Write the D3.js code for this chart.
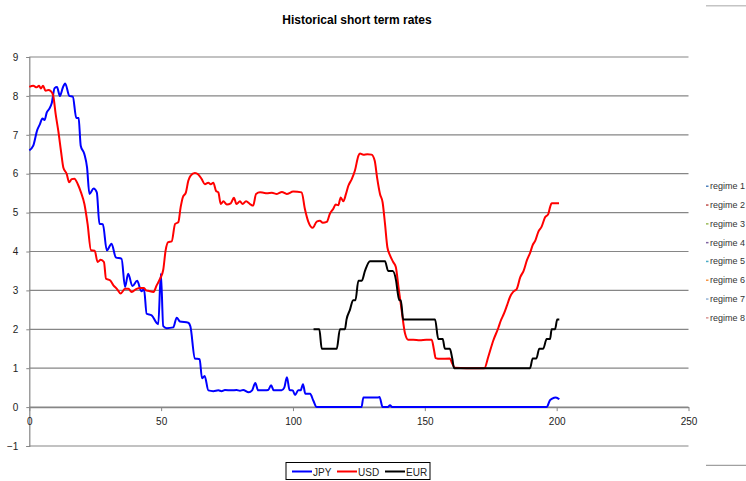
<!DOCTYPE html>
<html>
<head>
<meta charset="utf-8">
<script src="https://cdn.jsdelivr.net/npm/d3@7"></script>
<style>
  html, body { margin: 0; padding: 0; background: #fff; }
  svg { display: block; font-family: "Liberation Sans", Arial, sans-serif; }
</style>
</head>
<body>
<svg id="chart" width="746" height="481"></svg>
<script>
// Short-term interest rates by period index
const jpyX = [0,1.5,3,4,5,5.8,6.6,7.5,8.5,9.6,10.5,11.6,12.7,13.6,15.2,16.5,17.8,18.7,19.5,20.9,21.9,22.8,24.4,25.6,26.6,27.9,29.4,31.2,32.8,35,36.3,37.5,39.1,40.9,42.5,43.5,44.5,46.4,48.3,48.9,49.9,50.8,52.1,54.6,55.9,57.1,60.3,61.1,62.8,64.6,65.5,66.5,67.9,69.8,71.7,72.9,74.2,76.7,78.6,79.9,81.1,83.2,84.5,85.7,86.8,89.3,90.6,91.7,92.7,95.7,96.7,97.7,98.7,99.9,100.8,102,102.9,103.8,104.7,106.5,107.7,109,126,126.7,132.4,132.8,134,136,136.8,137.6,196.2,197.5,198.3,199.7,201];
const jpyY = [6.6,6.72,7.12,7.27,7.42,7.38,7.57,7.66,7.81,8.2,8.23,8.0,8.21,8.32,8.0,7.98,7.44,7.43,6.72,6.5,6.16,5.48,5.62,5.52,4.71,4.7,4.03,4.2,3.85,3.81,3.09,3.43,3.11,3.25,2.98,3.03,2.4,2.36,2.16,2.13,3.43,2.08,2.03,2.05,2.3,2.2,2.17,2.07,1.25,1.23,0.74,0.8,0.43,0.41,0.43,0.41,0.44,0.43,0.44,0.42,0.44,0.38,0.43,0.62,0.43,0.43,0.44,0.56,0.43,0.43,0.5,0.77,0.44,0.43,0.31,0.43,0.43,0.59,0.34,0.34,0.17,0,0,0.25,0.25,0.26,0,0,0.05,0,0,0.18,0.22,0.25,0.2];

const usdX = [0,1.5,2.8,3.7,4.4,5.2,6.2,7.2,8.2,9.1,10,11,12,12.9,14.2,15.1,16.1,17.1,18.4,19.6,20.9,22.1,23.4,24.8,25.9,27.1,28.3,29.1,30.6,31.9,33.2,34.6,36.3,37.6,38.8,40.7,42,43.5,44.3,45.1,47.1,48.3,49.6,50.8,51.7,52.7,54,55.3,56.5,57.4,58.2,59.4,60.3,61.2,62.8,64.1,65.4,66.6,67.9,68.8,69.8,70.8,71.7,72.6,73.6,74.9,76.4,77.6,78.6,79.9,80.9,82.2,83.7,84.9,86,87.5,88.8,90.1,92,93.9,95.8,97.6,100.1,103.3,104.5,105.8,107.5,109,110.2,111.3,112.8,114,115.3,116.2,117.2,118.1,119.1,120.1,121,122.3,123.5,124.8,125.4,126.7,128.2,129.8,131,131.9,133,134,134.9,135.8,136.8,138,139,140,141.2,142.5,143.7,145.6,148.1,150.6,152.6,153.5,154.1,155.8,159.5,160.4,161.4,165.8,172.6,174.1,175.9,177.9,178.8,180,181.1,182.3,183.5,184.2,184.8,186.2,187.5,188.7,190,191,191.9,193,194.3,195.6,196.8,197.5,198.1,200.9];
const usdY = [8.23,8.26,8.22,8.26,8.19,8.26,8.13,8.15,8.12,8.0,7.53,7.1,6.59,6.16,5.99,5.78,5.86,5.87,5.73,5.52,5.22,4.71,4.03,4.02,3.73,3.79,3.73,3.3,3.26,3.13,3.04,2.92,3.04,3.04,2.96,3.04,3.06,3.06,3.0,2.99,2.96,3.13,3.3,3.53,4.03,4.24,4.26,4.71,4.75,5.14,5.39,5.52,5.82,5.95,6.02,5.98,5.86,5.73,5.77,5.73,5.77,5.56,5.52,5.22,5.29,5.21,5.24,5.38,5.22,5.29,5.22,5.29,5.22,5.18,5.48,5.52,5.51,5.5,5.51,5.48,5.53,5.48,5.54,5.52,5.1,4.77,4.61,4.77,4.79,4.74,4.76,4.97,5.1,5.21,5.19,5.39,5.29,5.48,5.69,5.86,6.08,6.46,6.52,6.49,6.5,6.49,6.33,5.9,5.48,5.26,4.71,4.11,3.9,3.73,3.6,3.09,2.49,1.89,1.73,1.73,1.72,1.73,1.73,1.46,1.26,1.24,1.25,1.12,1.01,1.0,1.0,1.3,1.7,2.04,2.22,2.4,2.6,2.83,2.96,3.0,3.03,3.34,3.51,3.77,3.98,4.18,4.28,4.5,4.64,4.88,4.96,5.14,5.24,5.24];

const eurX = [107.8,110,110.9,116.6,117.8,119.7,120.3,121.6,122.8,123.7,124.8,126.1,127.3,129.2,134.9,136.1,137.8,139.1,139.6,140.3,140.9,141.8,153.9,155.1,156.8,157.6,159.5,160.4,161.1,189.9,190.9,192.3,193.4,194.9,196.2,197.5,198.1,199.4,200.2,201];
const eurY = [2.0,2.0,1.5,1.5,2.0,2.0,2.25,2.5,2.75,2.75,3.25,3.25,3.5,3.75,3.75,3.5,3.5,3.25,3.0,2.75,2.75,2.25,2.25,1.75,1.75,1.5,1.5,1.25,1.0,1.0,1.25,1.25,1.5,1.5,1.75,1.75,2.0,2.0,2.25,2.25];

const seriesNames = ["JPY", "USD", "EUR"];
const seriesColors = ["#0000ff", "#ff0000", "#000000"];
const yTicks = [-1,0,1,2,3,4,5,6,7,8,9];
const xTicks = [0,50,100,150,200,250];
const regimeNames = ["regime 1","regime 2","regime 3","regime 4","regime 5","regime 6","regime 7","regime 8"];
const regimeColors = ["#4f81bd","#c0504d","#9bbb59","#8064a2","#4bacc6","#f79646","#95b3d7","#d99694"];

const svg = d3.select("#chart");
const x = d3.scaleLinear().domain([0, 250]).range([29.3, 688.5]);
const y = d3.scaleLinear().domain([-1, 9]).range([446, 57]);

// title
svg.append("text")
  .attr("x", 357).attr("y", 24)
  .attr("text-anchor", "middle")
  .attr("font-size", 12).attr("font-weight", "bold")
  .attr("fill", "#000")
  .text("Historical short term rates");

// horizontal gridlines
svg.append("g").selectAll("line").data(yTicks).join("line")
  .attr("x1", x(0)).attr("x2", x(250))
  .attr("y1", d => y(d)).attr("y2", d => y(d))
  .attr("stroke", "#868686").attr("stroke-width", 1.2);

// y axis
const yAxis = svg.append("g")
  .attr("transform", `translate(${x(0)},0)`)
  .call(d3.axisLeft(y).tickValues(yTicks).tickSize(3).tickPadding(8).tickFormat(d3.format("d")));
yAxis.select(".domain").attr("stroke", "#868686").attr("stroke-width", 1.2);
yAxis.selectAll(".tick line").attr("stroke", "#868686");
yAxis.selectAll("text").attr("font-size", 10).attr("fill", "#222")
  .attr("font-family", "'Liberation Sans', Arial, sans-serif");

// x axis at zero
const xAxis = svg.append("g")
  .attr("transform", `translate(0,${y(0)})`)
  .call(d3.axisBottom(x).tickValues(xTicks).tickSize(4).tickPadding(7).tickSizeOuter(0));
xAxis.select(".domain").attr("stroke", "#868686").attr("stroke-width", 1.2);
xAxis.selectAll(".tick line").attr("stroke", "#868686");
xAxis.selectAll("text").attr("font-size", 10).attr("fill", "#222")
  .attr("font-family", "'Liberation Sans', Arial, sans-serif");

// series lines
const seriesData = [
  d3.zip(jpyX, jpyY),
  d3.zip(usdX, usdY),
  d3.zip(eurX, eurY)
];
const line = d3.line().x(d => x(d[0])).y(d => y(d[1])).curve(d3.curveMonotoneX);
seriesData.forEach((pts, i) => {
  svg.append("path")
    .datum(pts)
    .attr("fill", "none")
    .attr("stroke", seriesColors[i])
    .attr("stroke-width", 2)
    .attr("stroke-linejoin", "round")
    .attr("d", line);
});

// bottom legend
const leg = svg.append("g");
leg.append("rect").attr("x", 286).attr("y", 462.5).attr("width", 144).attr("height", 17)
  .attr("fill", "#fff").attr("stroke", "#000").attr("stroke-width", 1);
const legX = [292, 337, 385];
seriesNames.forEach((n, i) => {
  leg.append("line").attr("x1", legX[i]).attr("x2", legX[i] + 20)
    .attr("y1", 471.5).attr("y2", 471.5)
    .attr("stroke", seriesColors[i]).attr("stroke-width", 2);
  leg.append("text").attr("x", legX[i] + 21).attr("y", 475.5)
    .attr("font-size", 10).attr("fill", "#222").text(n);
});

// regime legend on the right
const reg = svg.append("g");
regimeNames.forEach((n, i) => {
  const cy = 186 + i * 18.8;
  reg.append("rect").attr("x", 706).attr("y", cy - 0.5).attr("width", 2.5).attr("height", 1.5)
    .attr("fill", regimeColors[i]);
  reg.append("text").attr("x", 710).attr("y", cy + 3.2)
    .attr("font-size", 9).attr("fill", "#333").text(n);
});

// short rule marks at the right edge
svg.append("line").attr("x1", 706).attr("x2", 746).attr("y1", 5.7).attr("y2", 5.7)
  .attr("stroke", "#c4c4c4").attr("stroke-width", 1.5);
svg.append("line").attr("x1", 706).attr("x2", 746).attr("y1", 465.3).attr("y2", 465.3)
  .attr("stroke", "#a0a0a0").attr("stroke-width", 1.2);
</script>
</body>
</html>
